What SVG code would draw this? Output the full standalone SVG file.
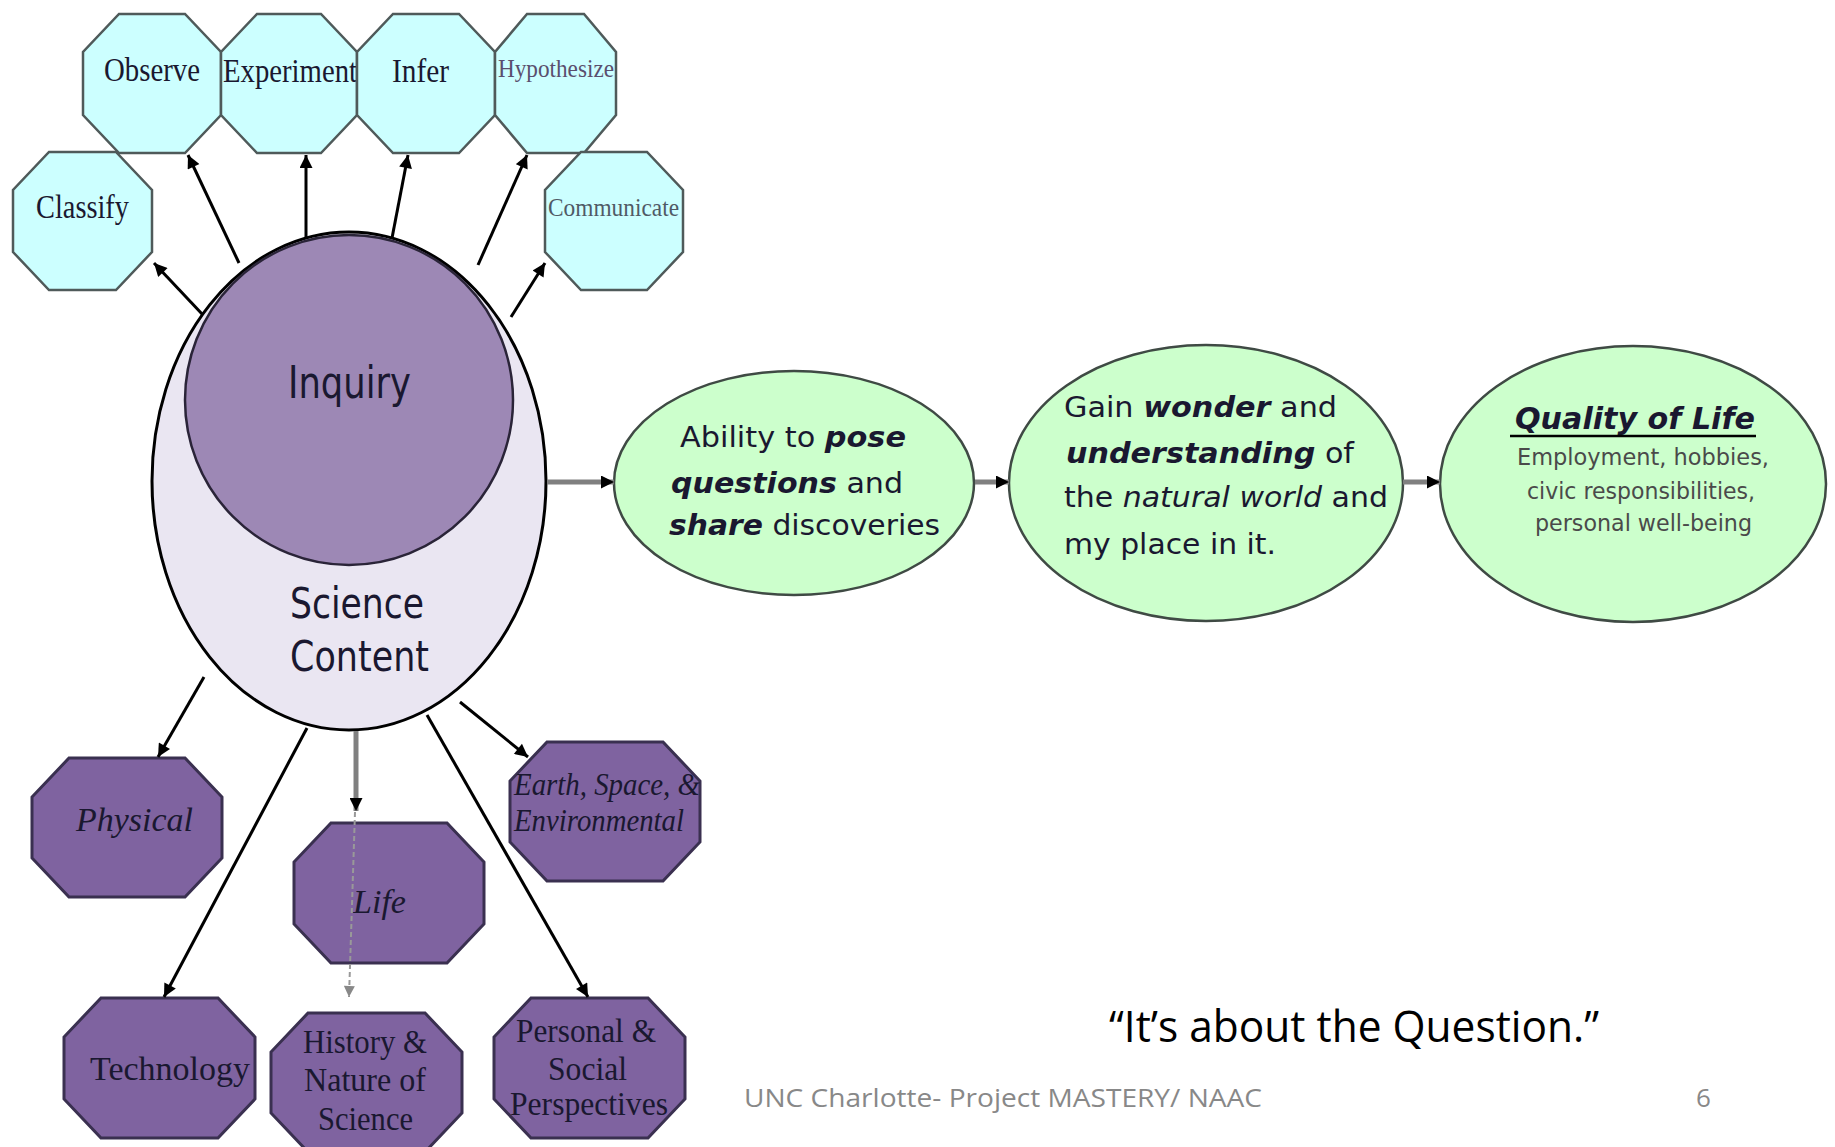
<svg xmlns="http://www.w3.org/2000/svg" width="1835" height="1147" viewBox="0 0 1835 1147">
<style>
.cyan{fill:#CCFFFF;stroke:#4F5A5A;stroke-width:2.5}
.purp{fill:#7F63A0;stroke:#3A3050;stroke-width:3}
.green{fill:#CCFFCC;stroke:#3F4A44;stroke-width:2.5}
.serif{font-family:"Liberation Serif","Times New Roman",serif;fill:#1A1830}
.sans{font-family:"DejaVu Sans",Verdana,sans-serif;fill:#1A1830}
.arr{stroke:#000;stroke-width:3;fill:none;marker-end:url(#ah)}
.garr{stroke:#808080;stroke-width:5;fill:none;marker-end:url(#ah)}
.bi{font-weight:bold;font-style:italic}
.it{font-style:italic}
</style>
<defs>
<marker id="ah" viewBox="0 0 10 10" refX="10" refY="5" markerWidth="15" markerHeight="13" markerUnits="userSpaceOnUse" orient="auto">
<path d="M0,0 L10,5 L0,10 z" fill="#000"/>
</marker>
<marker id="gah" viewBox="0 0 10 10" refX="10" refY="5" markerWidth="13" markerHeight="11" markerUnits="userSpaceOnUse" orient="auto">
<path d="M0,0 L10,5 L0,10 z" fill="#888"/>
</marker>
</defs>
<rect width="1835" height="1147" fill="#FFFFFF"/>

<g id="science-content">
<ellipse cx="349" cy="481" rx="197" ry="249" fill="#EAE6F2" stroke="#000" stroke-width="3"/>
<text class="sans" x="290" y="618" font-size="42" textLength="134" lengthAdjust="spacingAndGlyphs">Science</text>
<text class="sans" x="290" y="671" font-size="42" textLength="139" lengthAdjust="spacingAndGlyphs">Content</text>
</g>
<g id="inquiry">
<ellipse cx="349" cy="400" rx="164" ry="165" fill="#9D88B5" stroke="#2A2438" stroke-width="2.5"/>
<text class="sans" x="288" y="398" font-size="44" textLength="123" lengthAdjust="spacingAndGlyphs">Inquiry</text>
</g>

<g id="observe">
<polygon class="cyan" points="119,14 185,14 221,52 221,115 185,153 119,153 83,115 83,52"/>
<text class="serif" x="104" y="81" font-size="34" textLength="96" lengthAdjust="spacingAndGlyphs">Observe</text>
</g>
<g id="experiment">
<polygon class="cyan" points="257,14 321,14 357,52 357,115 321,153 257,153 221,115 221,52"/>
<text class="serif" x="223" y="82" font-size="34" textLength="134" lengthAdjust="spacingAndGlyphs">Experiment</text>
</g>
<g id="infer">
<polygon class="cyan" points="393,14 459,14 495,52 495,115 459,153 393,153 357,115 357,52"/>
<text class="serif" x="392" y="82" font-size="34" textLength="57" lengthAdjust="spacingAndGlyphs">Infer</text>
</g>
<g id="hypothesize">
<polygon class="cyan" points="527,14 584,14 616,52 616,115 584,153 527,153 495,115 495,52"/>
<text class="serif" x="498" y="77" font-size="26" textLength="116" lengthAdjust="spacingAndGlyphs" style="fill:#5A4F6E">Hypothesize</text>
</g>
<g id="classify">
<polygon class="cyan" points="49,152 116,152 152,190 152,252 116,290 49,290 13,252 13,190"/>
<text class="serif" x="36" y="218" font-size="34" textLength="93" lengthAdjust="spacingAndGlyphs">Classify</text>
</g>
<g id="communicate">
<polygon class="cyan" points="581,152 647,152 683,190 683,252 647,290 581,290 545,252 545,190"/>
<text class="serif" x="548" y="216" font-size="26" textLength="131" lengthAdjust="spacingAndGlyphs" style="fill:#505A66">Communicate</text>
</g>

<g id="ability">
<ellipse cx="794" cy="483" rx="180" ry="112" class="green"/>
<text class="sans" x="680" y="447" font-size="29" textLength="226" lengthAdjust="spacingAndGlyphs">Ability to <tspan class="bi">pose</tspan></text>
<text class="sans" x="671" y="493" font-size="29" textLength="232" lengthAdjust="spacingAndGlyphs"><tspan class="bi">questions</tspan> and</text>
<text class="sans" x="669" y="535" font-size="29" textLength="271" lengthAdjust="spacingAndGlyphs"><tspan class="bi">share</tspan> discoveries</text>
</g>
<g id="gain">
<ellipse cx="1206" cy="483" rx="197" ry="138" class="green"/>
<text class="sans" x="1064" y="417" font-size="29" textLength="273" lengthAdjust="spacingAndGlyphs">Gain <tspan class="bi">wonder</tspan> and</text>
<text class="sans" x="1066" y="463" font-size="29" textLength="288" lengthAdjust="spacingAndGlyphs"><tspan class="bi">understanding</tspan> of</text>
<text class="sans" x="1064" y="507" font-size="29" textLength="324" lengthAdjust="spacingAndGlyphs">the <tspan class="it">natural world</tspan> and</text>
<text class="sans" x="1064" y="554" font-size="29" textLength="212" lengthAdjust="spacingAndGlyphs">my place in it.</text>
</g>
<g id="quality">
<ellipse cx="1633" cy="484" rx="193" ry="138" class="green"/>
<text class="sans bi" x="1515" y="429" font-size="30" textLength="240" lengthAdjust="spacingAndGlyphs">Quality of Life</text>
<line x1="1510" y1="436" x2="1756" y2="436" stroke="#000" stroke-width="2.5"/>
<text class="sans" x="1517" y="465" font-size="23" textLength="252" lengthAdjust="spacingAndGlyphs" style="fill:#4A4A4A">Employment, hobbies,</text>
<text class="sans" x="1527" y="499" font-size="23" textLength="228" lengthAdjust="spacingAndGlyphs" style="fill:#4A4A4A">civic responsibilities,</text>
<text class="sans" x="1535" y="531" font-size="23" textLength="217" lengthAdjust="spacingAndGlyphs" style="fill:#4A4A4A">personal well-being</text>
</g>

<g id="physical">
<polygon class="purp" points="69,758 185,758 222,797 222,858 185,897 69,897 32,858 32,797"/>
<text class="serif it" x="76" y="831" font-size="34" textLength="117" lengthAdjust="spacingAndGlyphs">Physical</text>
</g>
<g id="life">
<polygon class="purp" points="331,823 447,823 484,862 484,924 447,963 331,963 294,924 294,862"/>
<text class="serif it" x="353" y="913" font-size="34" textLength="53" lengthAdjust="spacingAndGlyphs">Life</text>
</g>
<g id="earth">
<polygon class="purp" points="547,742 663,742 700,781 700,842 663,881 547,881 510,842 510,781"/>
<text class="serif it" x="514" y="795" font-size="32" textLength="186" lengthAdjust="spacingAndGlyphs">Earth, Space, &amp;</text>
<text class="serif it" x="514" y="831" font-size="32" textLength="170" lengthAdjust="spacingAndGlyphs">Environmental</text>
</g>
<g id="technology">
<polygon class="purp" points="101,998 218,998 255,1037 255,1099 218,1138 101,1138 64,1099 64,1037"/>
<text class="serif" x="90" y="1080" font-size="34" textLength="160" lengthAdjust="spacingAndGlyphs">Technology</text>
</g>
<g id="history">
<polygon class="purp" points="308,1013 425,1013 462,1052 462,1113 425,1152 308,1152 271,1113 271,1052"/>
<text class="serif" x="303" y="1053" font-size="34" textLength="124" lengthAdjust="spacingAndGlyphs">History &amp;</text>
<text class="serif" x="304" y="1091" font-size="34" textLength="122" lengthAdjust="spacingAndGlyphs">Nature of</text>
<text class="serif" x="318" y="1130" font-size="34" textLength="95" lengthAdjust="spacingAndGlyphs">Science</text>
</g>
<g id="personal">
<polygon class="purp" points="531,998 648,998 685,1037 685,1099 648,1138 531,1138 494,1099 494,1037"/>
<text class="serif" x="516" y="1042" font-size="34" textLength="140" lengthAdjust="spacingAndGlyphs">Personal &amp;</text>
<text class="serif" x="548" y="1080" font-size="34" textLength="79" lengthAdjust="spacingAndGlyphs">Social</text>
<text class="serif" x="510" y="1115" font-size="34" textLength="158" lengthAdjust="spacingAndGlyphs">Perspectives</text>
</g>

<g id="connectors">
<line class="arr" x1="203" y1="315" x2="154" y2="263"/>
<line class="arr" x1="239" y1="263" x2="188" y2="155"/>
<line class="arr" x1="306" y1="238" x2="306" y2="155"/>
<line class="arr" x1="392" y1="238" x2="408" y2="155"/>
<line class="arr" x1="478" y1="265" x2="527" y2="155"/>
<line class="arr" x1="511" y1="317" x2="545" y2="263"/>
<line class="garr" x1="547" y1="482" x2="614" y2="482"/>
<line class="garr" x1="975" y1="482" x2="1009" y2="482"/>
<line class="garr" x1="1403" y1="482" x2="1440" y2="482"/>
<line class="arr" x1="204" y1="677" x2="158" y2="757" stroke-width="2.5"/>
<line class="arr" x1="307" y1="728" x2="164" y2="997" stroke-width="2.5"/>
<line class="garr" x1="356" y1="731" x2="356" y2="811" stroke-width="4"/>
<line x1="355" y1="812" x2="349" y2="997" stroke="#999" stroke-width="2" stroke-dasharray="5,3" marker-end="url(#gah)"/>
<line class="arr" x1="460" y1="702" x2="528" y2="757" stroke-width="2.5"/>
<line class="arr" x1="427" y1="715" x2="588" y2="997" stroke-width="2.5"/>
</g>

<g id="footer">
<text x="1109" y="1042" font-family="Open Sans, Noto Sans, sans-serif" font-size="44" fill="#000" textLength="490" lengthAdjust="spacingAndGlyphs">“It’s about the Question.”</text>
<text x="744" y="1107" font-family="Open Sans, Noto Sans, sans-serif" font-size="26" fill="#888888" textLength="518" lengthAdjust="spacingAndGlyphs">UNC Charlotte- Project MASTERY/ NAAC</text>
<text x="1696" y="1107" font-family="Open Sans, Noto Sans, sans-serif" font-size="26" fill="#888888">6</text>
</g>
</svg>
